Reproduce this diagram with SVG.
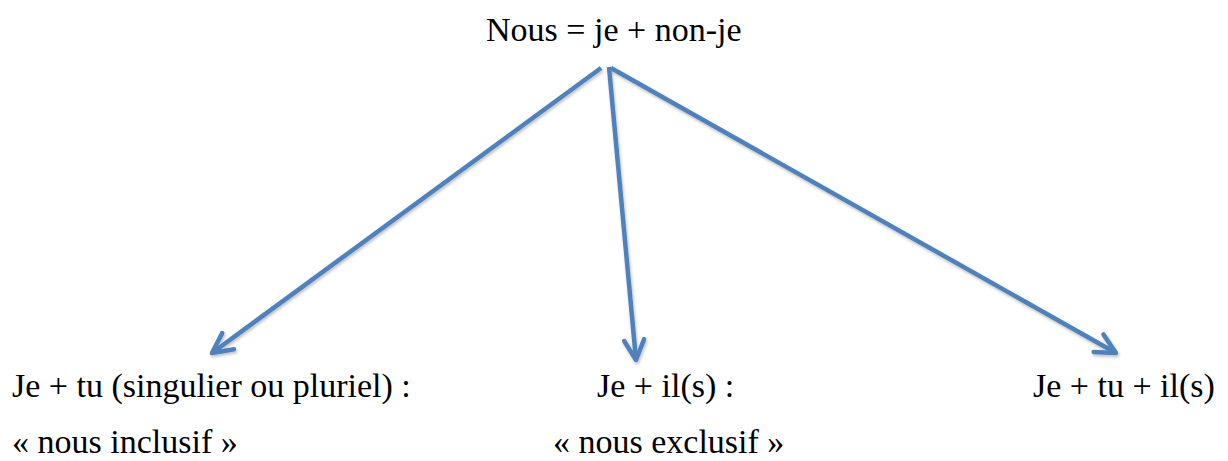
<svg xmlns="http://www.w3.org/2000/svg" width="1228" height="461" viewBox="0 0 1228 461">
<style>
.t{font-family:'Liberation Serif','Times New Roman',serif;font-size:34px;fill:#000}
.c{stroke:#4F81BD;stroke-width:4.5;fill:none;marker-end:url(#ah)}
</style>
<defs>
<marker id="ah" markerUnits="userSpaceOnUse" markerWidth="40" markerHeight="40" viewBox="-30 -20 40 40" refX="0" refY="0" orient="auto">
<path d="M-20 -10 L0 0 L-20 10" fill="none" stroke="#4F81BD" stroke-width="4.5" stroke-linecap="round" stroke-linejoin="round"/>
</marker>
<filter id="sh" x="-10%" y="-10%" width="120%" height="120%">
<feDropShadow dx="1" dy="2" stdDeviation="1.5" flood-color="#000" flood-opacity="0.25"/>
</filter>
</defs>
<g id="top"><text class="t" x="486" y="41">Nous = je + non-je</text></g>
<g id="left"><text class="t" x="12" y="397">Je + tu (singulier ou pluriel) :</text><text class="t" x="12" y="453">« nous inclusif »</text></g>
<g id="mid"><text class="t" x="597" y="397">Je + il(s) :</text><text class="t" x="553" y="453">« nous exclusif »</text></g>
<g id="right"><text class="t" x="1033" y="397">Je + tu + il(s)</text></g>
<g id="connectors" filter="url(#sh)">
<line class="c" x1="601" y1="68" x2="212" y2="353"/>
<line class="c" x1="609" y1="67" x2="636" y2="360"/>
<line class="c" x1="611" y1="68" x2="1116" y2="353"/>
</g>
</svg>
